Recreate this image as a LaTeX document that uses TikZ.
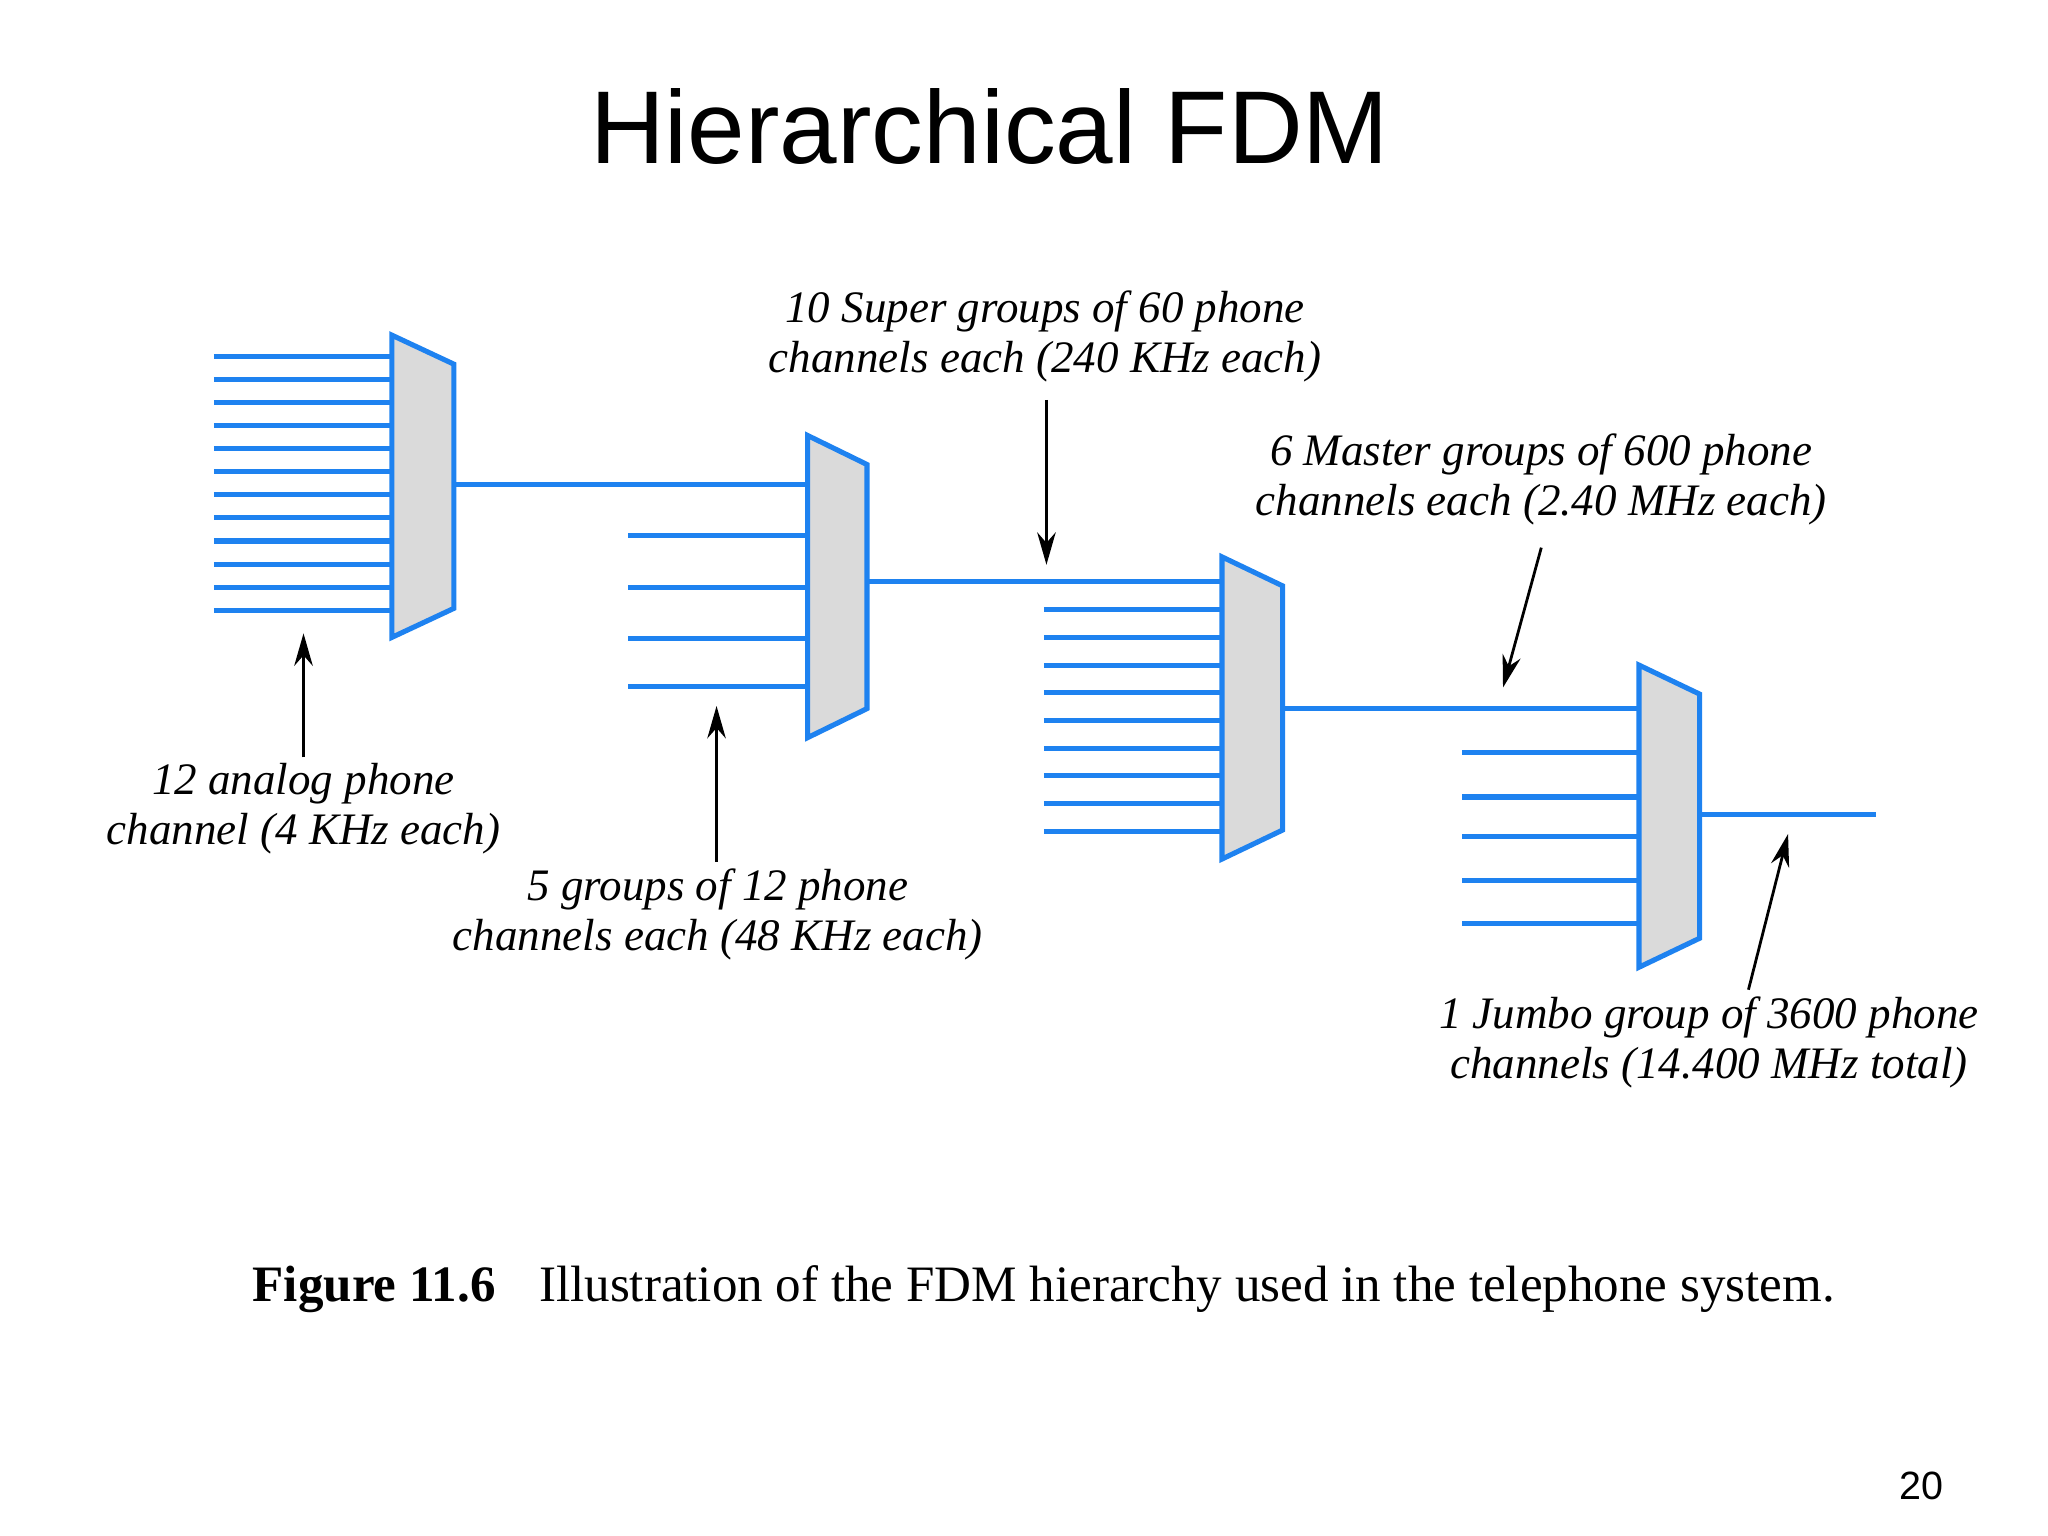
\documentclass[tikz,border=0pt]{standalone}
\usepackage{fontspec}
\usetikzlibrary{arrows.meta}
\setmainfont{Liberation Serif}
\newfontfamily\arialf{Liberation Sans}
\begin{document}
\begin{tikzpicture}[x=0.01cm,y=-0.01cm,
  chan/.style={draw={rgb,255:red,30;green,130;blue,240},line width=1.1pt},
  mux/.style={draw={rgb,255:red,30;green,130;blue,240},line width=1.1pt,fill={rgb,255:red,218;green,218;blue,218}},
  ann/.style={draw=black,line width=0.6pt,-{Stealth[length=7pt,width=4pt]}},
  lbl/.style={font=\fontsize{9.7}{10.8}\selectfont\itshape,align=center,inner sep=0pt}]
\useasboundingbox (0,0) rectangle (1552,1164);
\node[font=\arialf\fontsize{22.3}{26}\selectfont] (title) at (750,96) {Hierarchical FDM};
% mux 1
\foreach \i in {0,...,11} \draw[chan] (162,{270+\i*17.5}) -- (297,{270+\i*17.5});
\draw[mux] (297,254) -- (344,276) -- (344,461) -- (297,483) -- cycle;
\draw[chan] (344,367) -- (612,367);
% mux 2
\foreach \y in {406,445,484,520} \draw[chan] (476,\y) -- (612,\y);
\draw[mux] (612,330) -- (657,352) -- (657,537) -- (612,559) -- cycle;
\draw[chan] (657,441) -- (926,441);
% mux 3
\foreach \i in {0,...,8} \draw[chan] (791,{462+\i*21}) -- (926,{462+\i*21});
\draw[mux] (926,422) -- (972,444) -- (972,629) -- (926,651) -- cycle;
\draw[chan] (972,537) -- (1242,537);
% mux 4
\foreach \y in {570,604,634,667,700} \draw[chan] (1108,\y) -- (1242,\y);
\draw[mux] (1242,504) -- (1288,526) -- (1288,711) -- (1242,733) -- cycle;
\draw[chan] (1288,617) -- (1422,617);
% labels
\node[lbl] (l1) at (230,613) {12 analog phone\\channel (4 KHz each)};
\node[lbl] (l2) at (544,693) {5 groups of 12 phone\\channels each (48 KHz each)};
\node[lbl] (l3) at (792,255) {10 Super groups of 60 phone\\channels each (240 KHz each)};
\node[lbl] (l4) at (1168,363) {6 Master groups of 600 phone\\channels each (2.40 MHz each)};
\node[lbl] (l5) at (1295,790) {1 Jumbo group of 3600 phone\\channels (14.400 MHz total)};
\coordinate (a1) at (230,480); \coordinate (a2) at (543,535);
\coordinate (a3) at (793,428); \coordinate (a4) at (1139,521); \coordinate (a5) at (1355,632);
\draw[ann] (230,574) -- (a1);
\draw[ann] (543,653) -- (a2);
\draw[ann] (793,303) -- (a3);
\draw[ann] (1168,415) -- (a4);
\draw[ann] (1325,750) -- (a5);
\node[font=\fontsize{11}{13}\selectfont] (cap) at (791,977) {\textbf{Figure 11.6}\hspace{0.6em} Illustration of the FDM hierarchy used in the telephone system.};
\node[font=\arialf\fontsize{8.5}{10}\selectfont] (pg) at (1456,1126) {20};
\end{tikzpicture}
\end{document}
